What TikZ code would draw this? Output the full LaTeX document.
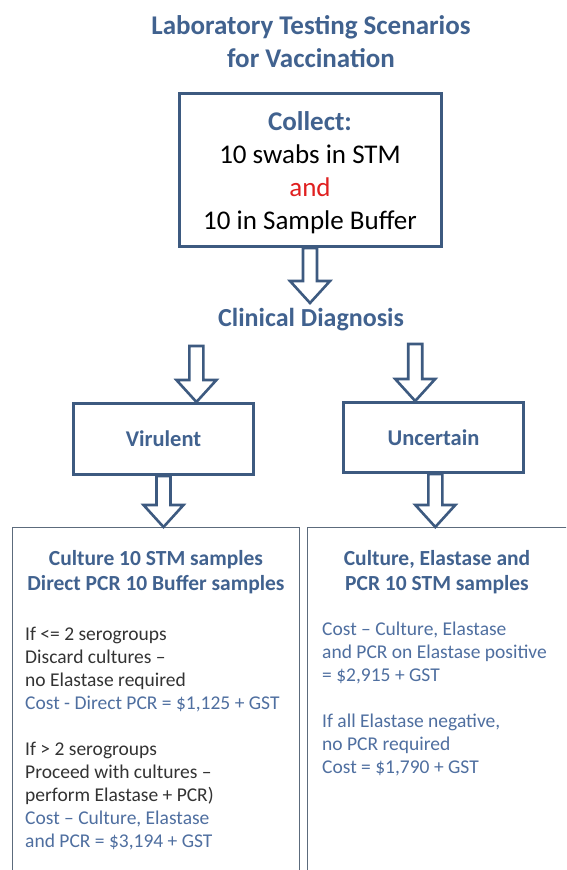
\documentclass[tikz,border=0pt]{standalone}
\usepackage{fontspec}
\setmainfont{Carlito}
\usetikzlibrary{calc}
\definecolor{ttl}{HTML}{41628F}
\definecolor{bord}{HTML}{3D5A80}
\definecolor{bbord}{HTML}{5C6B7C}
\definecolor{costc}{HTML}{4F6FA0}
\definecolor{bodyc}{HTML}{333333}
\definecolor{andc}{HTML}{E02020}
\newcommand{\blockarrow}[2]{%
  \draw[barrow] ($(#1)+(-7,0)$) -- ($(#2)+(-7,-22)$) -- ($(#2)+(-20,-22)$) -- (#2)
    -- ($(#2)+(20,-22)$) -- ($(#2)+(7,-22)$) -- ($(#1)+(7,0)$) -- cycle;}
\begin{document}
\begin{tikzpicture}[x=1pt,y=-1pt,
  mainbox/.style={draw=bord, line width=3pt, fill=white},
  barrow/.style={draw=bord, line width=2.6pt, fill=white, line join=miter},
  botbox/.style={draw=bbord, line width=1.3pt},
  ttltext/.style={text=ttl, font=\fontsize{27}{33}\selectfont\bfseries, align=center},
  midtext/.style={text=ttl, font=\fontsize{22.5}{26}\selectfont\bfseries, align=center},
  headtext/.style={text=ttl, font=\fontsize{21.5}{24.5}\selectfont\bfseries, align=center},
  bodytext/.style={text=bodyc, font=\fontsize{19.5}{23}\selectfont, align=left, anchor=north west, inner sep=0pt}
]
\useasboundingbox (0,0) rectangle (566,870);
\clip (0,0) rectangle (566,870);
\fill[white] (0,0) rectangle (566,870);

% title
\node[ttltext] (title) at (311,42) {Laboratory Testing Scenarios\\for Vaccination};

% collect box
\node[mainbox, minimum width=262pt, minimum height=153pt, anchor=north] (collect) at (310,92) {};
\node[align=center, font=\fontsize{27}{33}\selectfont, text=black] (collecttxt) at (310,173)
  {\textcolor{ttl}{\bfseries Collect:}\\10 swabs in STM\\\textcolor{andc}{and}\\10 in Sample Buffer};

% clinical diagnosis
\node[ttltext, font=\fontsize{26}{30}\selectfont\bfseries] (clin) at (311,320) {Clinical Diagnosis};

% virulent / uncertain
\node[mainbox, minimum width=180pt, minimum height=71pt, anchor=north west, midtext] (vir) at (72,402) {Virulent};
\node[mainbox, minimum width=180pt, minimum height=70pt, anchor=north west, midtext] (unc) at (342,401) {Uncertain};

% bottom boxes
\node[botbox, minimum width=287pt, minimum height=380pt, anchor=north west] (lbox) at (12,527) {};
\node[botbox, minimum width=290pt, minimum height=380pt, anchor=north west] (rbox) at (307,527) {};

% arrows
\coordinate (a1s) at (collect.south);
\coordinate (a1e) at (a1s |- 0,303);
\blockarrow{a1s}{a1e}
\coordinate (a2e) at ($(vir.north west)!0.68!(vir.north east)$);
\coordinate (a2s) at (a2e |- 0,346);
\blockarrow{a2s}{a2e}
\coordinate (a3e) at ($(unc.north west)!0.40!(unc.north east)$);
\coordinate (a3s) at (a3e |- 0,344);
\blockarrow{a3s}{a3e}
\coordinate (a4s) at (vir.south);
\coordinate (a4e) at (a4s |- lbox.north);
\blockarrow{a4s}{a4e}
\coordinate (a5s) at ($(unc.south west)!0.51!(unc.south east)$);
\coordinate (a5e) at (a5s |- rbox.north);
\blockarrow{a5s}{a5e}

% left box text
\node[headtext] (lhead) at (156,572) {Culture 10 STM samples\\Direct PCR 10 Buffer samples};
\node[bodytext] (lbody) at (25,627) {%
If <= 2 serogroups\\
Discard cultures --\\
no Elastase required\\
\textcolor{costc}{Cost - Direct PCR = \$1,125 + GST}\\[23pt]
If > 2 serogroups\\
Proceed with cultures --\\
perform Elastase + PCR)\\
\textcolor{costc}{Cost -- Culture, Elastase}\\
\textcolor{costc}{and PCR = \$3,194 + GST}};

% right box text
\node[headtext] (rhead) at (437,572) {Culture, Elastase and\\PCR 10 STM samples};
\node[bodytext, text=costc] (rbody) at (322,622) {%
Cost -- Culture, Elastase\\
and PCR on Elastase positive\\
= \$2,915 + GST\\[23pt]
If all Elastase negative,\\
no PCR required\\
Cost = \$1,790 + GST};
\end{tikzpicture}
\end{document}
